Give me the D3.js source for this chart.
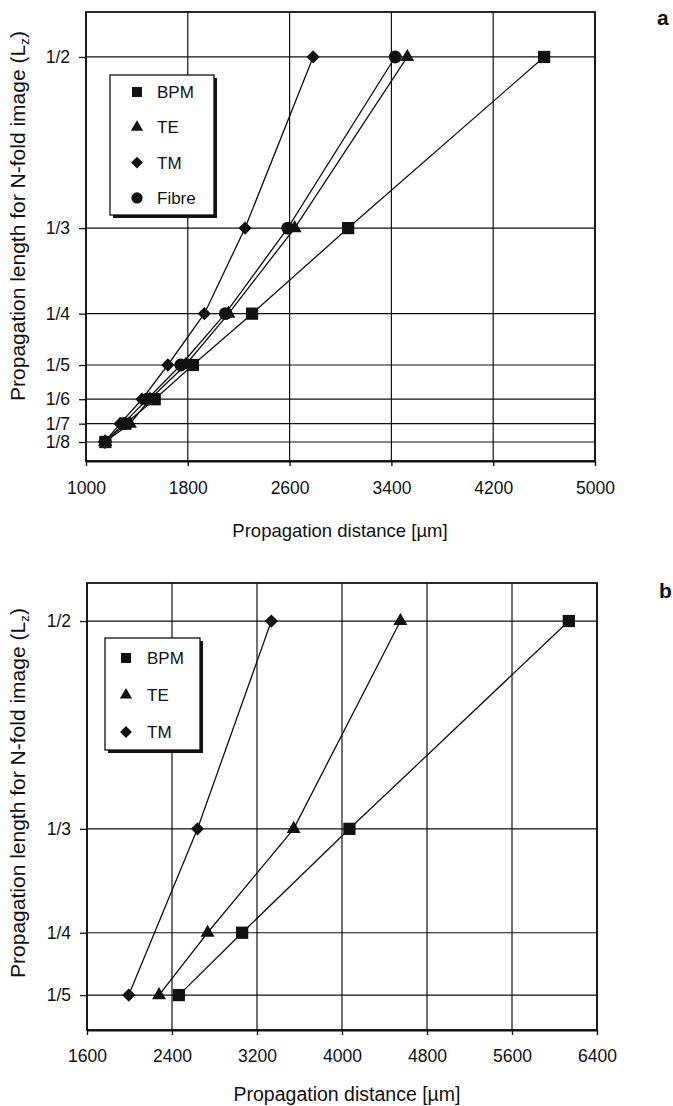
<!DOCTYPE html>
<html>
<head>
<meta charset="utf-8">
<script src="https://cdn.jsdelivr.net/npm/d3@7"></script>
<style>
  html, body { margin: 0; padding: 0; background: #fff; }
  svg { display: block; font-family: "Liberation Sans", Arial, sans-serif; }
</style>
</head>
<body>
<svg id="chart" width="673" height="1106"></svg>
<script>
// ---------- DATA ----------
// Panel a
const levelsA = [1/2, 1/3, 1/4, 1/5, 1/6, 1/7, 1/8];
const levelLabelsA = ["1/2", "1/3", "1/4", "1/5", "1/6", "1/7", "1/8"];
const bpmA   = [4600, 3060, 2305, 1840, 1540, 1310, 1152];
const teA    = [3525, 2640, 2120, 1782, 1502, 1345, 1150];
const tmA    = [2785, 2250, 1930, 1643, 1440, 1268, 1146];
const fibreA = [3430, 2585, 2095, 1745, 1480, 1295, 1150];
const xTicksA = [1000, 1800, 2600, 3400, 4200, 5000];

// Panel b
const levelsB = [1/2, 1/3, 1/4, 1/5];
const levelLabelsB = ["1/2", "1/3", "1/4", "1/5"];
const bpmB = [6135, 4070, 3060, 2465];
const teB  = [4550, 3545, 2735, 2278];
const tmB  = [3335, 2640, null, 1993];
const xTicksB = [1600, 2400, 3200, 4000, 4800, 5600, 6400];

const seriesNamesA = ["BPM", "TE", "TM", "Fibre"];
const seriesNamesB = ["BPM", "TE", "TM"];

// ---------- DRAWING ----------
const svg = d3.select("#chart");
const INK = "#111";

const diamondType = {
  draw(ctx, size) {
    const r = Math.sqrt(size / 2);
    ctx.moveTo(0, -r); ctx.lineTo(r, 0); ctx.lineTo(0, r); ctx.lineTo(-r, 0); ctx.closePath();
  }
};
const symbolFor = {
  BPM:   d3.symbol().type(d3.symbolSquare).size(150),
  TE:    d3.symbol().type(d3.symbolTriangle).size(85),
  TM:    d3.symbol().type(diamondType).size(88),
  Fibre: d3.symbol().type(d3.symbolCircle).size(130)
};
const legendSymbolFor = {
  BPM:   d3.symbol().type(d3.symbolSquare).size(100),
  TE:    d3.symbol().type(d3.symbolTriangle).size(65),
  TM:    d3.symbol().type(diamondType).size(70),
  Fibre: d3.symbol().type(d3.symbolCircle).size(100)
};

function panel(cfg) {
  const g = svg.append("g");
  const x = d3.scaleLinear().domain(cfg.xDomain).range([cfg.left, cfg.right]);
  const y = d3.scaleLinear().domain(cfg.yDomain).range([cfg.bottom, cfg.top]);

  // gridlines
  g.append("g").selectAll("line").data(cfg.xTicks).join("line")
    .attr("x1", d => x(d)).attr("x2", d => x(d))
    .attr("y1", cfg.top).attr("y2", cfg.bottom)
    .attr("stroke", INK).attr("stroke-width", 1.2);
  g.append("g").selectAll("line").data(cfg.levels).join("line")
    .attr("x1", cfg.left).attr("x2", cfg.right)
    .attr("y1", d => y(d)).attr("y2", d => y(d))
    .attr("stroke", INK).attr("stroke-width", 1.2);

  // frame
  g.append("rect").attr("x", cfg.left).attr("y", cfg.top)
    .attr("width", cfg.right - cfg.left).attr("height", cfg.bottom - cfg.top)
    .attr("fill", "none").attr("stroke", INK).attr("stroke-width", 1.8);

  // axes
  const xAxis = d3.axisBottom(x).tickValues(cfg.xTicks).tickFormat(d3.format("d"))
    .tickSize(5).tickPadding(cfg.xPad).tickSizeOuter(0);
  const gx = g.append("g").attr("transform", `translate(0,${cfg.bottom})`).call(xAxis);
  gx.select(".domain").attr("stroke", INK).attr("stroke-width", 1.8);
  gx.selectAll(".tick line").attr("stroke", INK).attr("stroke-width", 1.4);
  gx.selectAll(".tick text").attr("font-size", 17.5).attr("fill", INK)
    .attr("font-family", "Liberation Sans, Arial, sans-serif");

  const yAxis = d3.axisLeft(y).tickValues(cfg.levels)
    .tickFormat((d, i) => cfg.levelLabels[i]).tickSize(7).tickPadding(9).tickSizeOuter(0);
  const gy = g.append("g").attr("transform", `translate(${cfg.left},0)`).call(yAxis);
  gy.select(".domain").remove();
  gy.selectAll(".tick line").attr("stroke", INK).attr("stroke-width", 1.3);
  gy.selectAll(".tick text").attr("font-size", 17.5).attr("fill", INK)
    .attr("font-family", "Liberation Sans, Arial, sans-serif");

  // series lines + markers
  cfg.series.forEach(s => {
    const pts = s.values.map((v, i) => ({ v, l: cfg.levels[i] })).filter(p => p.v != null);
    const line = d3.line().x(p => x(p.v)).y(p => y(p.l));
    g.append("path").attr("d", line(pts)).attr("fill", "none")
      .attr("stroke", INK).attr("stroke-width", 1.3);
    g.append("g").selectAll("path").data(pts).join("path")
      .attr("transform", p => `translate(${x(p.v)},${y(p.l)})`)
      .attr("d", symbolFor[s.name]()).attr("fill", INK);
  });

  // legend
  const L = cfg.legend;
  g.append("rect").attr("x", L.x + 3).attr("y", L.y + 3).attr("width", L.w).attr("height", L.h).attr("fill", INK);
  g.append("rect").attr("x", L.x).attr("y", L.y).attr("width", L.w).attr("height", L.h)
    .attr("fill", "#fff").attr("stroke", INK).attr("stroke-width", 1.3);
  cfg.series.forEach((s, i) => {
    const cy = L.firstY + i * L.step;
    g.append("path").attr("transform", `translate(${L.markX},${cy})`)
      .attr("d", legendSymbolFor[s.name]()).attr("fill", INK);
    g.append("text").attr("x", L.textX).attr("y", cy).attr("dy", "0.36em")
      .attr("font-size", 17).attr("fill", INK).text(s.name);
  });

  // axis titles
  g.append("text").attr("x", cfg.xTitleX).attr("y", cfg.xTitleY)
    .attr("text-anchor", "middle").attr("font-size", cfg.xTitleSize).attr("fill", INK)
    .text("Propagation distance [µm]");
  const yt = g.append("text")
    .attr("transform", `translate(${cfg.yTitleX},${cfg.yTitleCY}) rotate(-90)`)
    .attr("text-anchor", "middle").attr("font-size", cfg.yTitleSize).attr("fill", INK);
  yt.append("tspan").text("Propagation length for N-fold image (L");
  yt.append("tspan").attr("font-size", cfg.yTitleSize * 0.65).attr("dy", "0.3em").text("z");
  yt.append("tspan").attr("dy", "-0.2em").text(")");

  // panel letter
  g.append("text").attr("x", cfg.letterX).attr("y", cfg.letterY)
    .attr("font-size", 21).attr("font-weight", "bold").attr("fill", INK).text(cfg.letter);
}

panel({
  left: 86, right: 595, top: 12, bottom: 461,
  xDomain: [1000, 5000], yDomain: [0.1065, 0.5438],
  xTicks: xTicksA, levels: levelsA, levelLabels: levelLabelsA, xPad: 16,
  series: [
    { name: "BPM", values: bpmA },
    { name: "TE", values: teA },
    { name: "TM", values: tmA },
    { name: "Fibre", values: fibreA }
  ],
  legend: { x: 110, y: 75, w: 104, h: 140, firstY: 92, step: 35.3, markX: 137, textX: 157 },
  xTitleX: 340, xTitleY: 537, xTitleSize: 18.5,
  yTitleX: 25, yTitleCY: 216, yTitleSize: 21,
  letter: "a", letterX: 657, letterY: 25
});

panel({
  left: 87, right: 597, top: 583, bottom: 1030,
  xDomain: [1600, 6400], yDomain: [0.172, 0.5305],
  xTicks: xTicksB, levels: levelsB, levelLabels: levelLabelsB, xPad: 15,
  series: [
    { name: "BPM", values: bpmB },
    { name: "TE", values: teB },
    { name: "TM", values: tmB }
  ],
  legend: { x: 105, y: 638, w: 95, h: 112, firstY: 658, step: 37, markX: 126, textX: 147 },
  xTitleX: 347, xTitleY: 1101, xTitleSize: 19.5,
  yTitleX: 25, yTitleCY: 793, yTitleSize: 21,
  letter: "b", letterX: 659, letterY: 598
});
</script>
</body>
</html>
